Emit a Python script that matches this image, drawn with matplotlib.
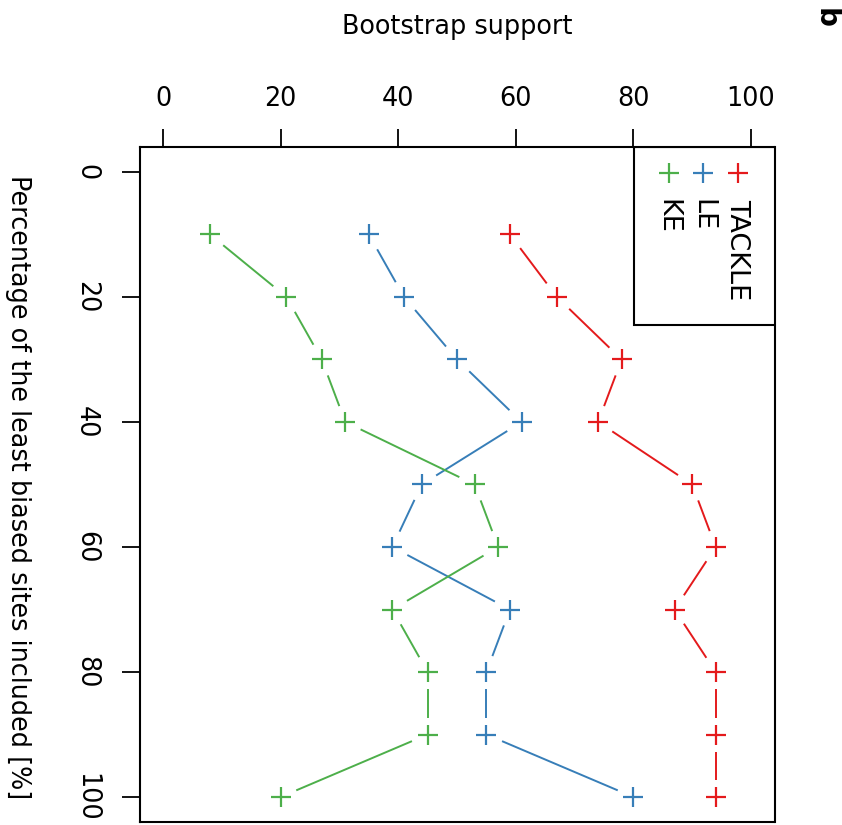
import numpy as np
import matplotlib
matplotlib.use("Agg")
import matplotlib.pyplot as plt
from matplotlib.patches import Rectangle

# percentage of least biased sites included (y, downward) and bootstrap support (x)
pct = [10, 20, 30, 40, 50, 60, 70, 80, 90, 100]
tackle = [59, 67, 78, 74, 90, 94, 87, 94, 94, 94]
le = [35, 41, 50, 61, 44, 39, 59, 55, 55, 80]
ke = [8, 21, 27, 31, 53, 57, 39, 45, 45, 20]
names = ["TACKLE", "LE", "KE"]
cols = ["#E41A1C", "#377EB8", "#4DAF4A"]
ticks = [0, 20, 40, 60, 80, 100]

plt.rcParams['font.family'] = ['DejaVu Sans']
fs = 18.4
fig = plt.figure(figsize=(8.42, 8.25), dpi=100)
ax = fig.add_axes([139.5/842, 1-822/825, 635/842, 675/825])
ax.set_xlim(-4, 104)
ax.set_ylim(104, -4)

# R style type="b": lines with a gap round every point
def gapline(xs, ys, c, gap=17):
    pts = ax.transData.transform(np.column_stack([xs, ys]))
    inv = ax.transData.inverted()
    for a, b in zip(pts[:-1], pts[1:]):
        d = b - a
        L = np.hypot(*d)
        if L <= 2*gap:
            continue
        u = d / L
        seg = inv.transform(np.array([a + u*gap, b - u*gap]))
        ax.plot(seg[:, 0], seg[:, 1], color=c, lw=1.4, solid_capstyle='butt')
    ax.plot(xs, ys, ls='none', marker='+', ms=14, mew=1.6, color=c)

for ys, c in zip([tackle, le, ke], cols):
    gapline(ys, pct, c)

ax.xaxis.tick_top()
ax.set_xticks(ticks)
ax.set_yticks(ticks)
ax.tick_params(axis='x', direction='out', length=13, width=1.3, pad=12, labelsize=fs)
ax.tick_params(axis='y', direction='out', length=13, width=1.3, pad=16, labelsize=fs)
for t in ax.get_yticklabels():
    t.set_rotation(270)
    t.set_va('center')
for s in ax.spines.values():
    s.set_linewidth(1.5)

fig.text(457/842, 1-27/825, "Bootstrap support", ha='center', va='center', fontsize=fs)
fig.text(18/842, 1-487/825, "Percentage of the least biased sites included [%]",
         ha='center', va='center', rotation=270, fontsize=fs)
fig.text(826/842, 1-18/825, "b", ha='center', va='center', rotation=270,
         fontsize=20, fontweight='bold')

# legend, drawn by hand since the text runs downward
ax.add_patch(Rectangle((80.1, -4), 30, 28.5, fill=False, lw=1.5, ec='black', clip_on=True))
for i, (n, c) in enumerate(zip(names, cols)):
    lx = 97.8 - i*5.9
    ax.plot([lx], [0.15], ls='none', marker='+', ms=14, mew=1.6, color=c)
    ax.text(lx - 0.2, 4.4, n, rotation=270, ha='center', va='top', fontsize=19.5)

fig.savefig("out.png", dpi=100)
